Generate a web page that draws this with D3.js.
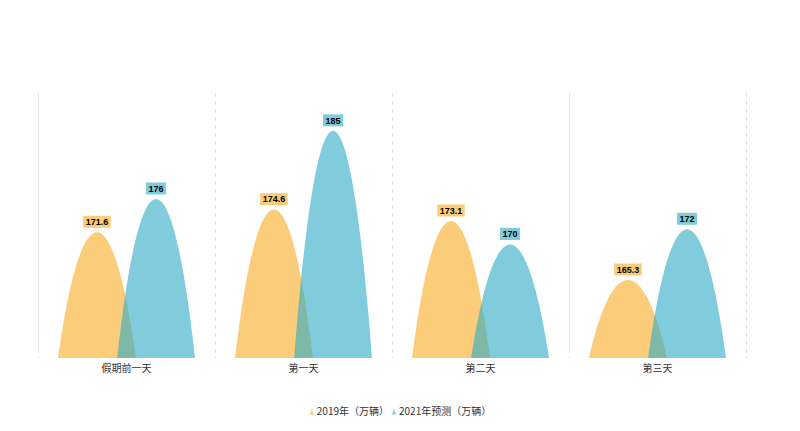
<!DOCTYPE html>
<html>
<head>
<meta charset="utf-8">
<script src="https://cdn.jsdelivr.net/npm/d3@7"></script>
<style>
  body { margin: 0; background: #fff; }
  svg { display: block; font-family: "Microsoft YaHei", "Noto Sans CJK SC", sans-serif; }
</style>
</head>
<body>
<div id="chart"></div>
<script>
const categories = ["假期前一天", "第一天", "第二天", "第三天"];
const seriesNames = ["2019年（万辆）", "2021年预测（万辆）"];
const values2019 = [171.6, 174.6, 173.1, 165.3];
const values2021 = [176, 185, 170, 172];
const yDomain = [155, 190];

const width = 800, height = 431;
const margin = { top: 93, right: 54, bottom: 73, left: 38 };
const colors = ["rgba(248,172,33,0.6)", "rgba(43,170,197,0.6)"];
const labelBg = ["#fbcd7a", "#80cbdc"];

const svg = d3.select("#chart").append("svg")
  .attr("width", width)
  .attr("height", height);

const x = d3.scaleBand()
  .domain(categories)
  .range([margin.left, width - margin.right]);

const y = d3.scaleLinear()
  .domain(yDomain)
  .range([height - margin.bottom, margin.top]);

// dashed split lines on category boundaries
const bounds = categories.map(c => x(c)).concat([x.range()[1]]);
svg.append("g").selectAll("line")
  .data(bounds)
  .join("line")
  .attr("x1", d => d + 0.5).attr("x2", d => d + 0.5)
  .attr("y1", margin.top).attr("y2", height - margin.bottom)
  .attr("stroke", "#e0e0e0")
  .attr("stroke-dasharray", "4,4");

// x axis labels
svg.append("g")
  .attr("transform", `translate(0,${height - margin.bottom})`)
  .call(d3.axisBottom(x).tickSize(0).tickPadding(7))
  .call(g => g.select(".domain").remove())
  .selectAll("text")
  .attr("font-size", 10)
  .attr("font-family", "Microsoft YaHei, Noto Sans CJK SC, sans-serif")
  .attr("fill", "#333");

// mountain shape
function mountain(cx, w, top, base) {
  const l = cx - w / 2, r = cx + w / 2, h = base - top;
  return `M${l},${base} C${l + w * 0.3},${top - h / 3} ${r - w * 0.3},${top - h / 3} ${r},${base} Z`;
}

const series = [values2019, values2021];
const symW = x.bandwidth() * 0.44;
const offsets = [-x.bandwidth() * 0.167, x.bandwidth() * 0.167];
const base = y(yDomain[0]);

series.forEach((vals, si) => {
  const g = svg.append("g");
  g.selectAll("path")
    .data(vals)
    .join("path")
    .attr("d", (d, i) => mountain(x(categories[i]) + x.bandwidth() / 2 + offsets[si], symW, y(d), base))
    .attr("fill", colors[si]);
});

// value labels
series.forEach((vals, si) => {
  const g = svg.append("g");
  const lbl = g.selectAll("g")
    .data(vals)
    .join("g")
    .attr("transform", (d, i) => `translate(${x(categories[i]) + x.bandwidth() / 2 + offsets[si]},${y(d) - 10.5})`);
  lbl.append("text")
    .attr("text-anchor", "middle")
    .attr("dy", "0.36em")
    .attr("font-size", 9)
    .attr("font-weight", "bold")
    .attr("font-family", "Arial, Liberation Sans, sans-serif")
    .attr("fill", "#000")
    .text(d => d)
    .each(function() {
      const b = this.getBBox();
      d3.select(this.parentNode).insert("rect", "text")
        .attr("x", b.x - 2.5).attr("y", -6)
        .attr("width", b.width + 5).attr("height", 12)
        .attr("fill", labelBg[si]);
    });
});

// legend
const legend = svg.append("g").attr("transform", `translate(0,411)`);
const items = legend.selectAll("g")
  .data(seriesNames)
  .join("g");
const widths = [];
items.each(function(d, i) {
  const it = d3.select(this);
  it.append("path")
    .attr("d", "M-3,3.5 L3,3.5 C1.5,3.5 1,1 0,-3 C-1,1 -1.5,3.5 -3,3.5 Z")
    .attr("transform", "translate(3,0)")
    .attr("fill", labelBg[i]);
  const t = it.append("text")
    .attr("x", 8)
    .attr("dy", "0.35em")
    .attr("font-size", 10)
    .attr("fill", "#333")
    .text(d);
  widths.push(8 + t.node().getComputedTextLength());
});
const gap = 2;
const total = d3.sum(widths) + gap * (widths.length - 1);
let lx = width / 2 - total / 2;
items.attr("transform", (d, i) => {
  const t = `translate(${lx},0)`;
  lx += widths[i] + gap;
  return t;
});
</script>
</body>
</html>
